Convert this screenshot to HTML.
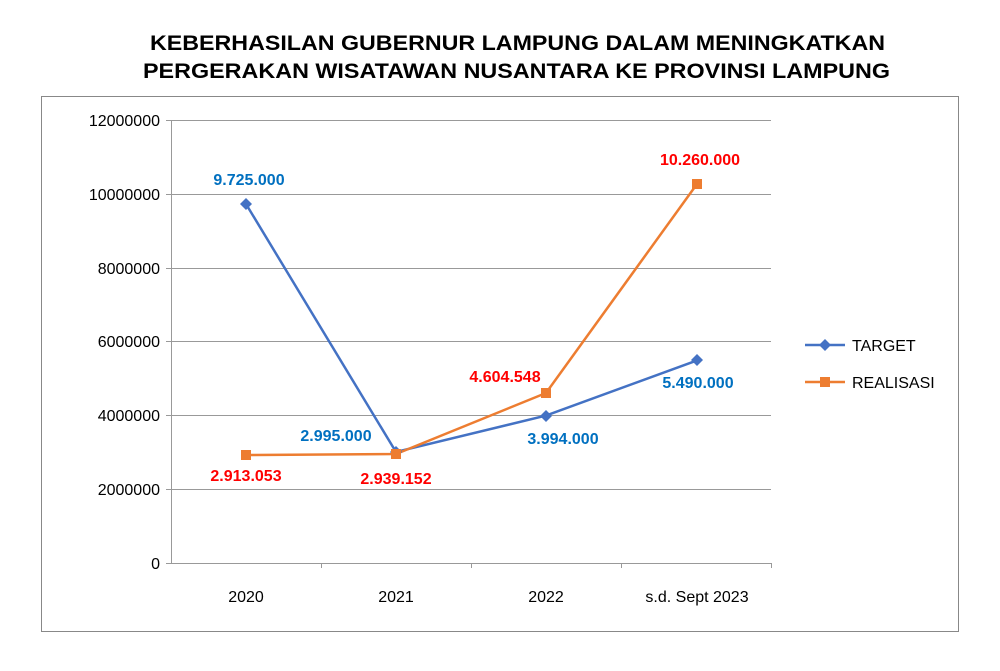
<!DOCTYPE html>
<html><head><meta charset="utf-8"><style>
body{margin:0;background:#fff;}
svg text{font-family:"Liberation Sans",Arial,sans-serif;}
</style></head><body>
<svg width="1000" height="666" viewBox="0 0 1000 666" xmlns="http://www.w3.org/2000/svg">
<rect width="1000" height="666" fill="#fff"/>
<text x="150" y="50" textLength="735" lengthAdjust="spacingAndGlyphs" font-size="21" font-weight="bold" fill="#000">KEBERHASILAN GUBERNUR LAMPUNG DALAM MENINGKATKAN</text>
<text x="143" y="78" textLength="747" lengthAdjust="spacingAndGlyphs" font-size="21" font-weight="bold" fill="#000">PERGERAKAN WISATAWAN NUSANTARA KE PROVINSI LAMPUNG</text>
<rect x="41.5" y="96.5" width="917" height="535" fill="none" stroke="#888" stroke-width="1"/>
<g stroke="#999" stroke-width="1">
<line x1="171" y1="120.5" x2="771" y2="120.5"/>
<line x1="171" y1="194.5" x2="771" y2="194.5"/>
<line x1="171" y1="268.5" x2="771" y2="268.5"/>
<line x1="171" y1="341.5" x2="771" y2="341.5"/>
<line x1="171" y1="415.5" x2="771" y2="415.5"/>
<line x1="171" y1="489.5" x2="771" y2="489.5"/>
<line x1="171" y1="563.5" x2="771" y2="563.5"/>
<line x1="171.5" y1="120" x2="171.5" y2="563"/>
<line x1="166" y1="120.5" x2="171" y2="120.5"/><line x1="166" y1="194.5" x2="171" y2="194.5"/><line x1="166" y1="268.5" x2="171" y2="268.5"/><line x1="166" y1="341.5" x2="171" y2="341.5"/><line x1="166" y1="415.5" x2="171" y2="415.5"/><line x1="166" y1="489.5" x2="171" y2="489.5"/><line x1="166" y1="563.5" x2="171" y2="563.5"/>
<line x1="321.5" y1="563" x2="321.5" y2="568"/><line x1="471.5" y1="563" x2="471.5" y2="568"/><line x1="621.5" y1="563" x2="621.5" y2="568"/><line x1="771.5" y1="563" x2="771.5" y2="568"/>
</g>
<g font-size="16" fill="#000" text-anchor="end">
<text x="160" y="126">12000000</text><text x="160" y="200">10000000</text><text x="160" y="274">8000000</text><text x="160" y="347">6000000</text><text x="160" y="421">4000000</text><text x="160" y="495">2000000</text><text x="160" y="569">0</text>
</g>
<g font-size="16" fill="#000" text-anchor="middle">
<text x="246" y="602">2020</text><text x="396" y="602">2021</text><text x="546" y="602">2022</text><text x="697" y="602">s.d. Sept 2023</text>
</g>
<polyline points="246,204 396,452 546,415.6 697,360.4" fill="none" stroke="#4472C4" stroke-width="2.5"/>
<polyline points="246,455 396,454 546,393 697,184" fill="none" stroke="#ED7D31" stroke-width="2.5"/>
<g fill="#4472C4">
<polygon points="246,198 252,204 246,210 240,204"/><polygon points="396,446 402,452 396,458 390,452"/><polygon points="546,410 552,416 546,422 540,416"/><polygon points="697,354 703,360 697,366 691,360"/>
</g>
<g fill="#ED7D31">
<rect x="241" y="450" width="10" height="10"/><rect x="391" y="449" width="10" height="10"/><rect x="541" y="388" width="10" height="10"/><rect x="692" y="179" width="10" height="10"/>
</g>
<g font-size="16" font-weight="bold" fill="#0070C0" text-anchor="middle">
<text x="249" y="185">9.725.000</text><text x="336" y="441">2.995.000</text><text x="563" y="444">3.994.000</text><text x="698" y="388">5.490.000</text>
</g>
<g font-size="16" font-weight="bold" fill="#FF0000" text-anchor="middle">
<text x="246" y="481">2.913.053</text><text x="396" y="484">2.939.152</text><text x="505" y="382">4.604.548</text><text x="700" y="165">10.260.000</text>
</g>
<line x1="805" y1="345" x2="845" y2="345" stroke="#4472C4" stroke-width="2.5"/>
<polygon points="825,339 831,345 825,351 819,345" fill="#4472C4"/>
<line x1="805" y1="382" x2="845" y2="382" stroke="#ED7D31" stroke-width="2.5"/>
<rect x="820" y="377" width="10" height="10" fill="#ED7D31"/>
<text x="852" y="351" font-size="16" fill="#000">TARGET</text>
<text x="852" y="388" font-size="16" fill="#000">REALISASI</text>
</svg>
</body></html>
